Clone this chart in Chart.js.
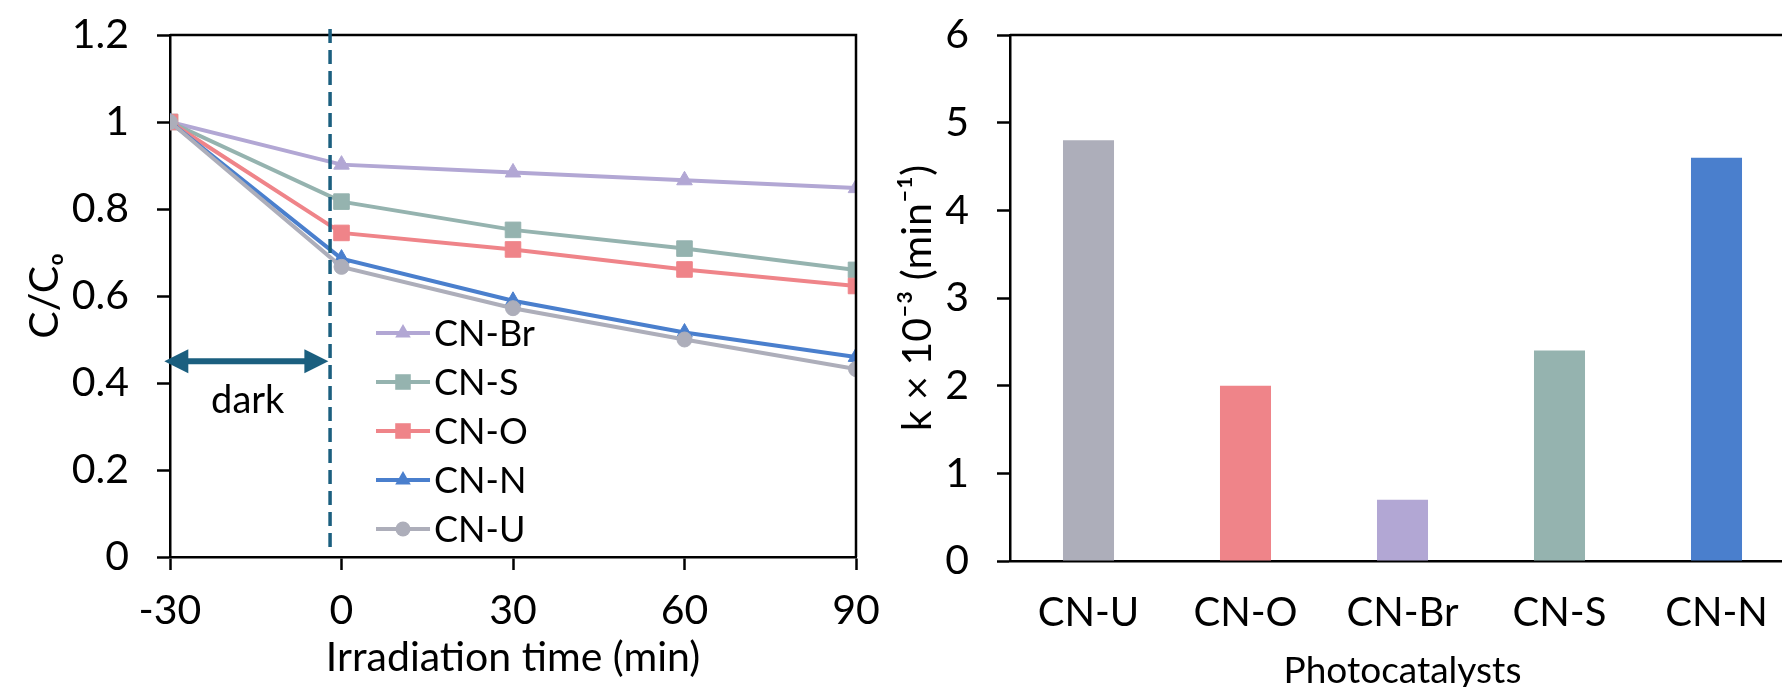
<!DOCTYPE html>
<html>
<head>
<meta charset="utf-8">
<script src="https://cdn.jsdelivr.net/npm/chart.js@4.4.0/dist/chart.umd.min.js"></script>
<style>
  html, body { margin: 0; padding: 0; background: #fff; overflow: hidden; width: 1782px; height: 687px; }
  #left { position: absolute; left: 0; top: 0; }
  #right { position: absolute; left: 880px; top: 0; }
</style>
</head>
<body>
<canvas id="left" width="900" height="687"></canvas>
<canvas id="right" width="930" height="687"></canvas>
<script>
// time axis (min)
var times = [-30, 0, 30, 60, 90];
// C/Co for each catalyst
var cnBr = [1, 0.902, 0.884, 0.866, 0.848];
var cnS = [1, 0.817, 0.752, 0.709, 0.660];
var cnO = [1, 0.745, 0.707, 0.661, 0.623];
var cnN = [1, 0.686, 0.589, 0.516, 0.460];
var cnU = [1, 0.667, 0.572, 0.500, 0.432];

// rate constants k x 10^-3 (min^-1)
var catalysts = ["CN-U", "CN-O", "CN-Br", "CN-S", "CN-N"];
var rates = [4.8, 2.0, 0.7, 2.4, 4.6];

// dark period marker
var darkEnd = -2;
var arrowFrom = -31;
var arrowTo = -2.3;
var arrowY = 0.45;
var darkLabel = "dark";
var darkLabelX = -16.4;
var darkLabelY = 0.36;

var colBr = "#b2a7d4", colS = "#95b3af", colO = "#ef8489", colN = "#4a7fcd", colU = "#adaeba";
var teal = "#1b5f7f";
var FONT = "Lato, 'Open Sans', sans-serif";
var TICK = 41;

Chart.defaults.color = "#000";
Chart.defaults.font.family = FONT;

function pts(arr) {
    var out = [];
    for (var i = 0; i < arr.length; i++) out.push({x: times[i], y: arr[i]});
    return out;
}

function series(label, arr, color, style, r, order) {
    return {
        label: label,
        data: pts(arr),
        borderColor: color,
        backgroundColor: color,
        pointBackgroundColor: color,
        pointBorderColor: color,
        borderWidth: 4,
        pointStyle: style,
        pointRadius: r,
        pointBorderWidth: 1,
        order: order
    };
}

function drawMarker(ctx, style, x, y, r, color) {
    ctx.save();
    ctx.fillStyle = color;
    ctx.beginPath();
    if (style === "rect") {
        var s = r * Math.SQRT1_2;
        ctx.rect(x - s, y - s, 2 * s, 2 * s);
    } else if (style === "triangle") {
        ctx.moveTo(x, y - r);
        ctx.lineTo(x + r * Math.sin(Math.PI / 3), y + r / 2);
        ctx.lineTo(x - r * Math.sin(Math.PI / 3), y + r / 2);
        ctx.closePath();
    } else {
        ctx.arc(x, y, r, 0, Math.PI * 2);
    }
    ctx.fill();
    ctx.restore();
}

var boxFrame = {
    id: "boxFrame",
    afterDraw: function (chart) {
        var a = chart.chartArea, ctx = chart.ctx;
        ctx.save();
        ctx.strokeStyle = "#000";
        ctx.lineWidth = 2.5;
        ctx.beginPath();
        ctx.moveTo(a.left, a.top);
        ctx.lineTo(a.right, a.top);
        ctx.lineTo(a.right, a.bottom);
        ctx.stroke();
        ctx.restore();
    }
};

var darkMarks = {
    id: "darkMarks",
    afterDraw: function (chart) {
        var ctx = chart.ctx, xs = chart.scales.x, ys = chart.scales.y, a = chart.chartArea;
        ctx.save();
        // dashed line
        var dx = xs.getPixelForValue(darkEnd);
        ctx.strokeStyle = teal;
        ctx.lineWidth = 3.5;
        ctx.setLineDash([14, 7]);
        ctx.beginPath();
        ctx.moveTo(dx, a.top - 6);
        ctx.lineTo(dx, a.bottom - 4);
        ctx.stroke();
        ctx.setLineDash([]);
        // double arrow
        var x1 = xs.getPixelForValue(arrowFrom), x2 = xs.getPixelForValue(arrowTo), y = ys.getPixelForValue(arrowY);
        var hl = 24, hw = 12;
        ctx.lineWidth = 6;
        ctx.beginPath();
        ctx.moveTo(x1 + hl - 2, y);
        ctx.lineTo(x2 - hl + 2, y);
        ctx.stroke();
        ctx.fillStyle = teal;
        ctx.beginPath();
        ctx.moveTo(x1, y); ctx.lineTo(x1 + hl, y - hw); ctx.lineTo(x1 + hl, y + hw); ctx.closePath();
        ctx.fill();
        ctx.beginPath();
        ctx.moveTo(x2, y); ctx.lineTo(x2 - hl, y - hw); ctx.lineTo(x2 - hl, y + hw); ctx.closePath();
        ctx.fill();
        // label
        ctx.fillStyle = "#000";
        ctx.font = "38px " + FONT;
        ctx.textAlign = "center";
        ctx.textBaseline = "middle";
        ctx.fillText(darkLabel, xs.getPixelForValue(darkLabelX), ys.getPixelForValue(darkLabelY));
        ctx.restore();
    }
};

// legend drawn inside the plot, in Excel order
var legendOrder = ["CN-Br", "CN-S", "CN-O", "CN-N", "CN-U"];
var insideLegend = {
    id: "insideLegend",
    afterDraw: function (chart) {
        var ctx = chart.ctx;
        var x0 = 376, x1 = 430, y0 = 333, step = 49;
        ctx.save();
        for (var i = 0; i < legendOrder.length; i++) {
            var ds = chart.data.datasets.find(function (d) { return d.label === legendOrder[i]; });
            var y = y0 + i * step;
            ctx.strokeStyle = ds.borderColor;
            ctx.lineWidth = 4;
            ctx.beginPath();
            ctx.moveTo(x0, y);
            ctx.lineTo(x1, y);
            ctx.stroke();
            drawMarker(ctx, ds.pointStyle, (x0 + x1) / 2, y, ds.pointRadius, ds.borderColor);
            ctx.fillStyle = "#000";
            ctx.font = "36px " + FONT;
            ctx.textAlign = "left";
            ctx.textBaseline = "middle";
            ctx.fillText(ds.label, x1 + 4, y + 1);
        }
        ctx.restore();
    }
};

// keep tick label overflow from pushing the plot area
function noPad(s) { s.paddingTop = 0; s.paddingBottom = 0; s.paddingLeft = 0; s.paddingRight = 0; }

function axisStyle(extra) {
    var base = {
        border: {display: true, color: "#000", width: 2.5},
        grid: {display: true, drawOnChartArea: false, drawTicks: true, tickLength: 13, tickWidth: 2.5, tickColor: "#000"}
    };
    return Object.assign(base, extra);
}

new Chart(document.getElementById("left"), {
    type: "line",
    data: {
        datasets: [
            series("CN-Br", cnBr, colBr, "triangle", 9, 4),
            series("CN-S", cnS, colS, "rect", 11, 3),
            series("CN-O", cnO, colO, "rect", 11, 2),
            series("CN-N", cnN, colN, "triangle", 9, 1),
            series("CN-U", cnU, colU, "circle", 7.5, 0)
        ]
    },
    options: {
        responsive: false,
        animation: false,
        layout: {padding: {top: 35, right: 44, left: 0, bottom: 0}},
        plugins: {legend: {display: false}, tooltip: {enabled: false}},
        elements: {line: {tension: 0}},
        scales: {
            x: axisStyle({
                type: "linear",
                min: -30, max: 90,
                ticks: {stepSize: 30, padding: 16, color: "#000", font: {size: TICK, family: FONT}},
                title: {display: true, text: "Irradiation time (min)", font: {size: TICK, family: FONT}, color: "#000", padding: {top: 0, bottom: 5}},
                afterFit: function (s) { s.height = 130; noPad(s); }
            }),
            y: axisStyle({
                min: 0, max: 1.2,
                ticks: {stepSize: 0.2, padding: 28, color: "#000", font: {size: TICK, family: FONT},
                    callback: function (v) { return String(Number(v.toFixed(1))); }},
                title: {display: true, text: "C/C\u2092", font: {size: TICK, family: FONT}, color: "#000", padding: {top: 20, bottom: 0}},
                afterFit: function (s) { s.width = 170; noPad(s); }
            })
        }
    },
    plugins: [boxFrame, darkMarks, insideLegend]
});

new Chart(document.getElementById("right"), {
    type: "bar",
    data: {
        labels: catalysts,
        datasets: [{
            data: rates,
            backgroundColor: [colU, colO, colBr, colS, colN],
            barPercentage: 0.325,
            categoryPercentage: 1
        }]
    },
    options: {
        responsive: false,
        animation: false,
        layout: {padding: {top: 35, right: 15, left: 0, bottom: 0}},
        plugins: {legend: {display: false}, tooltip: {enabled: false}},
        scales: {
            x: axisStyle({
                grid: {display: true, drawOnChartArea: false, drawTicks: false},
                ticks: {padding: 28, color: "#000", font: {size: 40, family: FONT}},
                title: {display: true, text: "Photocatalysts", font: {size: 37, family: FONT}, color: "#000", padding: {top: 0, bottom: -6}},
                afterFit: function (s) { s.height = 126; noPad(s); }
            }),
            y: axisStyle({
                min: 0, max: 6,
                ticks: {stepSize: 1, padding: 28, color: "#000", font: {size: TICK, family: FONT}},
                title: {display: true, text: "k \u00d7 10\u207b\u00b3 (min\u207b\u00b9)", font: {size: TICK, family: FONT}, color: "#000", padding: {top: 13, bottom: 0}},
                afterFit: function (s) { s.width = 130; noPad(s); }
            })
        }
    },
    plugins: [boxFrame]
});
</script>
</body>
</html>
